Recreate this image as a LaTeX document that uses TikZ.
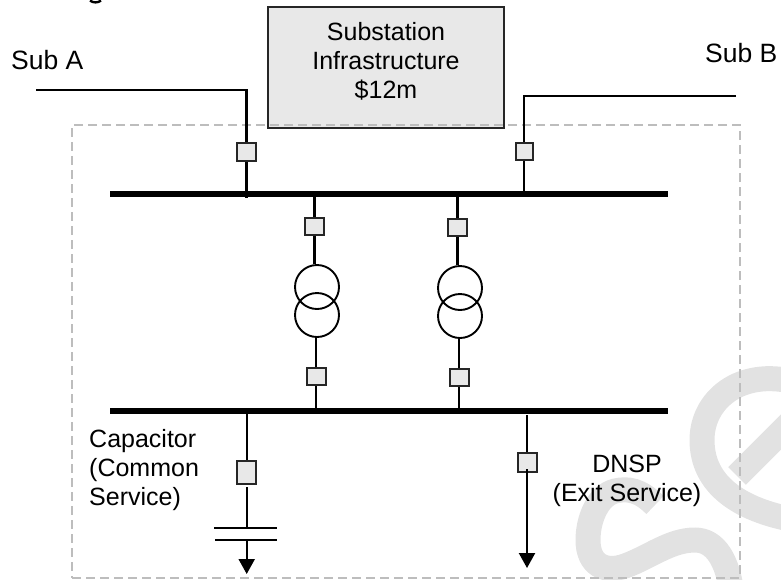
\documentclass[tikz,border=0pt]{standalone}
\usepackage{fontspec}
\setmainfont{Liberation Sans}
\usetikzlibrary{arrows.meta}
\definecolor{wmgray}{HTML}{E2E2E2}
\definecolor{boxfill}{HTML}{E8E8E8}
\definecolor{dashgray}{HTML}{BDBDBD}
\definecolor{edge}{HTML}{262626}
\tikzset{
  wire/.style={line width=2.2pt,black},
  busbar/.style={line width=6pt,black},
  breaker/.style={draw=edge,line width=2pt,fill=boxfill,rectangle,inner sep=0pt,minimum width=#1},
  breaker/.default=19pt,
  winding/.style={draw=black,line width=1.9pt,circle,inner sep=0pt,minimum size=44pt},
  labeltext/.style={inner sep=0pt,font=\fontsize{25}{29}\selectfont,align=center,text=black},
  sublabel/.style={inner sep=0pt,font=\fontsize{26.5}{30}\selectfont,anchor=base west,text=black},
  frame/.style={draw=dashgray,line width=1.5pt,dash pattern=on 9pt off 5pt},
  watermark/.style={draw=wmgray,line width=25pt},
  groundtip/.style={-{Triangle[width=16pt,length=15pt]}},
}
\begin{document}
\begin{tikzpicture}[x=1pt,y=-1pt]
\useasboundingbox (0,0) rectangle (781,579);
% background watermark
\draw[watermark] (795,382) .. controls (740,368) and (702,400) .. (702,440) .. controls (702,485) and (740,510) .. (795,520);
\draw[watermark] (737,476) -- (795,418);
\draw[watermark] (655,505) .. controls (640,490) and (628,488) .. (615,491) .. controls (597,496) and (588,520) .. (588,540) .. controls (588,565) and (605,573) .. (625,566) .. controls (650,557) and (670,540) .. (695,540) .. controls (715,540) and (728,560) .. (732,595);
% clipped caption remnant at the very top
\draw[line width=2.4pt] (90,0.5) .. controls (93,3) and (98,3) .. (101,0.5);
% infrastructure box
\node[draw=edge,line width=2pt,fill=boxfill,rectangle,inner sep=0pt,minimum width=236pt,minimum height=121pt] (infra) at (386,67.5) {};
\node[labeltext] (infraText) at (386,61.5) {Substation\\Infrastructure\\\$12m};
% dashed boundary
\node[frame,rectangle,inner sep=0pt,minimum width=668pt,minimum height=453pt] (boundary) at (406,351.5) {};
% labels
\node[sublabel] (subA) at (11,69) {Sub A};
\node[sublabel] (subB) at (705,62) {Sub B};
\node[labeltext,align=left,anchor=west] (capText) at (89,470) {Capacitor\\(Common\\Service)};
\node[labeltext] (dnspText) at (627,480.5) {DNSP\\(Exit Service)};
% buses
\coordinate (busTopL) at (110,193.7);
\coordinate (busTopR) at (668,193.7);
\coordinate (busLowL) at (110,411.3);
\coordinate (busLowR) at (668,411.3);
\draw[busbar] (busTopL) -- (busTopR);
\draw[busbar] (busLowL) -- (busLowR);
% breakers
\node[breaker,minimum height=18pt] (bkA) at (246.5,152) {};
\node[breaker=17.5pt,minimum height=17pt] (bkB) at (524.3,151) {};
\node[breaker,minimum height=17pt] (bkT1) at (314.5,226.5) {};
\node[breaker,minimum height=17pt] (bkT2) at (457.5,227.5) {};
\node[breaker,minimum height=17pt] (bkL1) at (316,376.5) {};
\node[breaker,minimum height=17pt] (bkL2) at (459,377.5) {};
\node[breaker=19.5pt,minimum height=23pt] (bkC) at (246.7,472.5) {};
\node[breaker,minimum height=18.5pt] (bkD) at (527,462.7) {};
% transformers
\node[winding] (t1a) at (317,287) {};
\node[winding] (t1b) at (317,315) {};
\node[winding] (t2a) at (460,288) {};
\node[winding] (t2b) at (460,316) {};
% feeders
\coordinate (subAend) at (36,90);
\coordinate (subBend) at (736,96);
\coordinate (tapA) at (246.5,198);
\coordinate (capTop) at (246.7,527.7);
\coordinate (capBot) at (246.7,540.3);
\coordinate (capPlateAL) at (214,527.7);
\coordinate (capPlateAR) at (277,527.7);
\coordinate (capPlateBL) at (215,540.3);
\coordinate (capPlateBR) at (277,540.3);
\coordinate (capTip) at (246.7,574);
\coordinate (dnspTop) at (527,415);
\coordinate (dnspIn) at (527,469);
\coordinate (dnspTip) at (527,568);
\draw[wire] (subAend) -| (bkA.north);
\draw[wire] (bkA.south) -- (tapA);
\draw[wire] (subBend) -| (bkB.north);
\draw[wire] (bkB.south) -- (bkB.south |- busTopL);
\draw[wire] (bkT1.north |- busTopL) -- (bkT1.north);
\draw[wire] (bkT1.south) -- (bkT1.south |- t1a.north);
\draw[wire] (bkT2.north |- busTopL) -- (bkT2.north);
\draw[wire] (bkT2.south) -- (bkT2.south |- t2a.north);
\draw[wire] (bkL1.north |- t1b.south) -- (bkL1.north);
\draw[wire] (bkL1.south) -- (bkL1.south |- busLowL);
\draw[wire] (bkL2.north |- t2b.south) -- (bkL2.north);
\draw[wire] (bkL2.south) -- (bkL2.south |- busLowL);
\draw[wire] (bkC.north |- busLowL) -- (bkC.north);
\draw[wire,shorten <=2pt] (bkC.south) -- (capTop);
\draw[wire] (capPlateAL) -- (capPlateAR);
\draw[wire] (capPlateBL) -- (capPlateBR);
\draw[wire,groundtip] (capBot) -- (capTip);
\draw[wire] (dnspTop) -- (bkD.north);
\draw[wire,groundtip] (dnspIn) -- (dnspTip);
\end{tikzpicture}
\end{document}
